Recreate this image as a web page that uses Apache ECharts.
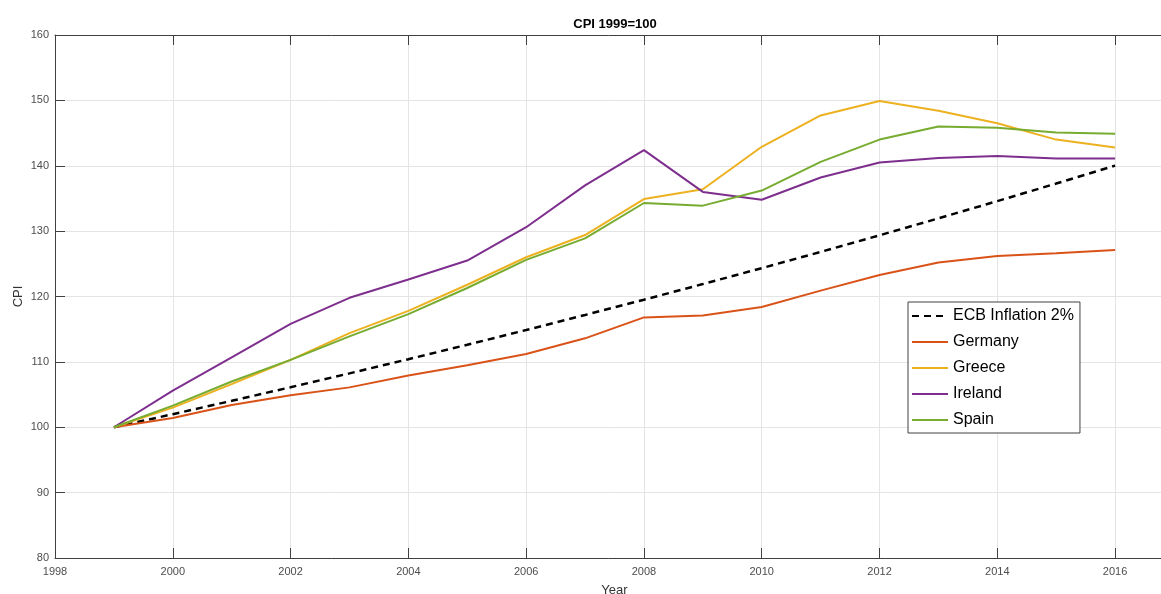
<!DOCTYPE html>
<html>
<head>
<meta charset="utf-8">
<script src="https://cdn.jsdelivr.net/npm/echarts@6/dist/echarts.min.js"></script>
<style>
html,body{margin:0;padding:0;background:#fff;}
#chart{width:1161px;height:594px;}
</style>
</head>
<body>
<div id="chart"></div>
<script>
const years = [1999,2000,2001,2002,2003,2004,2005,2006,2007,2008,2009,2010,2011,2012,2013,2014,2015,2016];
const ecb = [100,102,104.04,106.12,108.24,110.41,112.62,114.87,117.17,119.51,121.9,124.34,126.82,129.36,131.95,134.59,137.28,140.02];
const germany = [100,101.4,103.4,104.9,106.1,107.9,109.5,111.2,113.6,116.8,117.1,118.4,120.9,123.3,125.2,126.2,126.6,127.1];
const greece = [100,103.0,106.6,110.3,114.4,117.8,121.8,126.0,129.4,134.9,136.4,142.9,147.7,149.9,148.4,146.5,144.0,142.8];
const ireland = [100,105.6,110.7,115.8,119.8,122.6,125.5,130.6,137.0,142.4,136.0,134.8,138.2,140.5,141.2,141.5,141.1,141.1];
const spain = [100,103.3,107.0,110.3,113.9,117.3,121.3,125.6,128.9,134.3,133.9,136.2,140.6,144.0,146.0,145.8,145.1,144.9];
const seriesNames = ['ECB Inflation 2%','Germany','Greece','Ireland','Spain'];

const font = 'Liberation Sans, Arial, sans-serif';
const pair = arr => years.map((y,i)=>[y,arr[i]]);
const axisLineCol = '#404040';
const gridCol = '#e4e4e4';

const chart = echarts.init(document.getElementById('chart'));
function mk(name, data, color, dashed){
  return {
    name: name, type:'line', data: pair(data), symbol:'none', animation:false,
    xAxisIndex:0, yAxisIndex:0,
    lineStyle:{color:color, width: dashed?2.5:2, type: dashed?[7,5]:'solid'},
    itemStyle:{color:color}
  };
}
chart.setOption({
  animation:false,
  backgroundColor:'#fff',
  title:{text:'CPI 1999=100', left:610, top:13, textAlign:'center', padding:5,
    textStyle:{fontFamily:font, fontSize:13, fontWeight:'bold', color:'#000'}},
  grid:{left:55, top:35, width:1119, height:523, containLabel:false, outerBoundsMode:'none'},
  legend:{
    orient:'vertical', left:908, top:302, padding:[6,6,5,3],
    itemWidth:36, itemHeight:14, itemGap:10,
    borderColor:'#404040', borderWidth:1, backgroundColor:'#fff',
    itemStyle:{opacity:0, color:'transparent', borderWidth:0},
    textStyle:{fontFamily:font, fontSize:16, color:'#000'},
    data: seriesNames
  },
  xAxis:[{
    type:'value', min:1998, max:2017, interval:2, position:'bottom',
    name:'Year', nameLocation:'middle', nameGap:26, nameMoveOverlap:false,
    nameTextStyle:{fontFamily:font, fontSize:13, color:'#333'},
    axisLine:{show:true, lineStyle:{color:axisLineCol, width:1}},
    axisTick:{show:true, inside:true, length:10, lineStyle:{color:axisLineCol}},
    axisLabel:{fontFamily:font, fontSize:11, color:'#4d4d4d', margin:8,
      formatter: v => (v % 2 === 0 ? String(v) : '')},
    splitLine:{show:true, lineStyle:{color:gridCol, width:1}}
  },{
    type:'value', min:1998, max:2017, interval:2, position:'top',
    axisLine:{show:true, lineStyle:{color:axisLineCol, width:1}},
    axisTick:{show:true, inside:true, length:10, lineStyle:{color:axisLineCol}},
    axisLabel:{show:false}, splitLine:{show:false}
  }],
  yAxis:[{
    type:'value', min:80, max:160, interval:10, position:'left',
    name:'CPI', nameLocation:'middle', nameGap:30, nameRotate:90, nameMoveOverlap:false,
    nameTextStyle:{fontFamily:font, fontSize:13, color:'#333'},
    axisLine:{show:true, lineStyle:{color:axisLineCol, width:1}},
    axisTick:{show:true, inside:true, length:10, lineStyle:{color:axisLineCol}},
    axisLabel:{fontFamily:font, fontSize:11, color:'#4d4d4d', margin:6},
    splitLine:{show:true, lineStyle:{color:gridCol, width:1}}
  },{
    type:'value', min:80, max:160, interval:10, position:'right',
    axisLine:{show:true, lineStyle:{color:axisLineCol, width:1}},
    axisTick:{show:true, inside:true, length:10},
    axisLabel:{show:false}, splitLine:{show:false}
  }],
  series:[
    mk(seriesNames[0], ecb, '#000000', true),
    mk(seriesNames[1], germany, '#D95319', false),
    mk(seriesNames[2], greece, '#EDB120', false),
    mk(seriesNames[3], ireland, '#7E2F8E', false),
    mk(seriesNames[4], spain, '#77AC30', false)
  ]
});
</script>
</body>
</html>
